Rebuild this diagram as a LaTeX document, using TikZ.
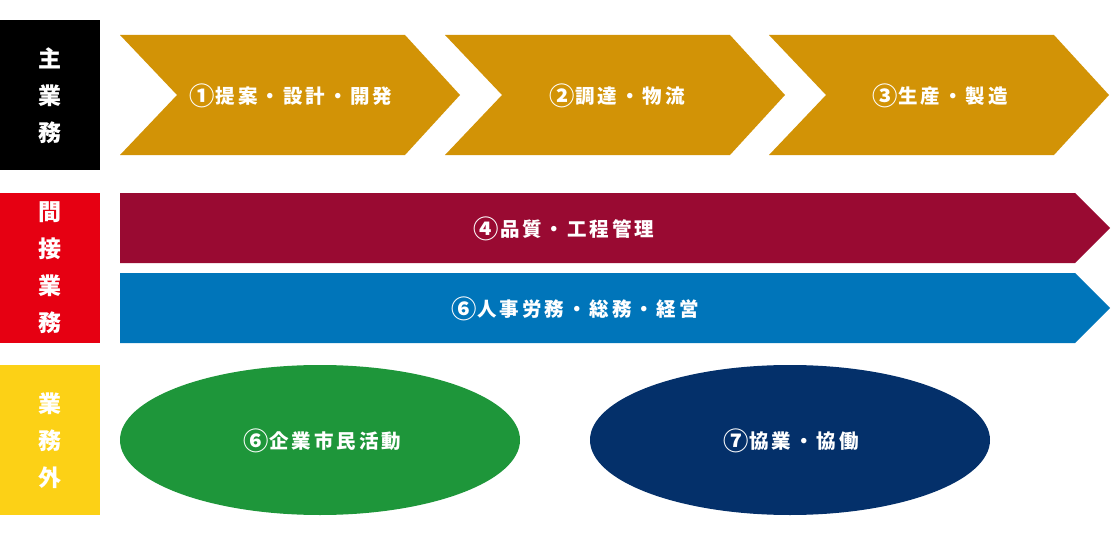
\documentclass[tikz,border=0pt]{standalone}
\usepackage{fontspec}
\usepackage{graphicx}
\newfontfamily\jp{Noto Sans CJK JP}[LetterSpace=15]
\newfontfamily\jpside{Noto Sans CJK JP}
\newcommand{\cnum}[1]{\raisebox{-0.09em}{\scalebox{1.3}{#1}}\hspace{0.05em}}
\definecolor{gold}{HTML}{D29306}
\definecolor{wine}{HTML}{990A32}
\definecolor{sea}{HTML}{0075BA}
\definecolor{leaf}{HTML}{1E963A}
\definecolor{navy}{HTML}{04306A}
\definecolor{sidered}{HTML}{E60012}
\definecolor{sideyellow}{HTML}{FCD116}
\tikzset{
  lbl/.style={text=white, font=\jp\bfseries\fontsize{19.5}{22}\selectfont, inner sep=0pt},
  side/.style={text=white, align=center, font=\jpside\bfseries\fontsize{23}{37}\selectfont, inner sep=0pt},
}
\begin{document}
\begin{tikzpicture}[x=1pt,y=-1pt]
\useasboundingbox (0,0) rectangle (1120,535);
% side boxes
\fill[black] (0,20) rectangle (100,170);
\fill[sidered] (0,193) rectangle (100,343);
\fill[sideyellow] (0,365) rectangle (100,515);
\node[side] (s1) at (50,96) {主\\業\\務};
\node[side] (s2) at (50,268) {間\\接\\業\\務};
\node[side] (s3) at (50,441) {業\\務\\外};
% chevrons
\fill[gold] (120,35) -- (405,35) -- (460,95) -- (405,155) -- (120,155) -- (177,95) -- cycle;
\fill[gold] (445,35) -- (730,35) -- (785,95) -- (730,155) -- (445,155) -- (502,95) -- cycle;
\fill[gold] (769,35) -- (1054,35) -- (1109,95) -- (1054,155) -- (769,155) -- (826,95) -- cycle;
\node[lbl] (c1) at (291,96) {\cnum{①}提案・設計・開発};
\node[lbl] (c2) at (617,96) {\cnum{②}調達・物流};
\node[lbl] (c3) at (940,96) {\cnum{③}生産・製造};
% arrows
\fill[wine] (120,193) -- (1075,193) -- (1110,228) -- (1075,263) -- (120,263) -- cycle;
\fill[sea] (120,273) -- (1075,273) -- (1110,308) -- (1075,343) -- (120,343) -- cycle;
\node[lbl] (a1) at (564,229) {\cnum{④}品質・工程管理};
\node[lbl] (a2) at (575,309) {\cnum{⑥}人事労務・総務・経営};
% ellipses
\fill[leaf] (320,440) ellipse[x radius=200, y radius=75];
\fill[navy] (790,440) ellipse[x radius=200, y radius=75];
\node[lbl] (e1) at (322,441) {\cnum{⑥}企業市民活動};
\node[lbl] (e2) at (791,441) {\cnum{⑦}協業・協働};
\end{tikzpicture}
\end{document}
